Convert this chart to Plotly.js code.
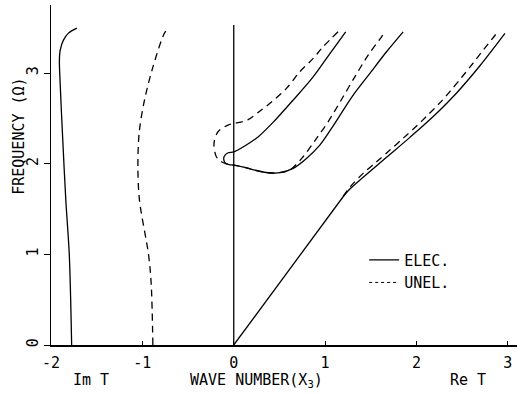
<!DOCTYPE html>
<html>
<head>
<meta charset="utf-8">
<script src="https://cdn.plot.ly/plotly-3.0.1.min.js"></script>
<style>html,body{margin:0;padding:0;background:#fff;}#chart{width:523px;height:394px;}</style>
</head>
<body>
<div id="chart"></div>
<script>
// ---- Data ----
// Imaginary part (plotted on negative side of the wave-number axis)
const imElecX = [-1.774, -1.80, -1.838, -1.875, -1.90, -1.908, -1.90, -1.864, -1.809, -1.717];
const imElecY = [0, 1.0, 1.6, 2.34, 2.89, 3.14, 3.25, 3.363, 3.44, 3.495];
const imUnelX = [-0.885, -0.904, -0.933, -1.032, -1.049, -1.035, -0.977, -0.885, -0.758, -0.714];
const imUnelY = [0, 0.684, 1.0, 1.6, 1.96, 2.34, 2.70, 3.065, 3.44, 3.495];

// Real part, electroded: upper branch -> loop -> middle branch
const reElecAX = [1.225, 1.015, 0.869, 0.65, 0.43, 0.266, 0.12, 0, -0.062, -0.106, -0.108, -0.09, -0.05, 0,
                  0.12, 0.23, 0.376, 0.504, 0.65, 0.796, 0.942, 1.07, 1.307, 1.49, 1.672, 1.854];
const reElecAY = [3.454, 3.161, 2.958, 2.701, 2.455, 2.295, 2.195, 2.13, 2.12, 2.076, 2.04, 2.005, 1.99, 1.985,
                  1.959, 1.929, 1.90, 1.90, 1.948, 2.058, 2.205, 2.389, 2.756, 2.996, 3.234, 3.454];
// Real part, unelectroded: upper branch -> loop -> middle branch
const reUnelAX = [1.142, 0.978, 0.869, 0.723, 0.577, 0.358, 0.266, 0.157, 0.011, -0.062, -0.172, -0.216, -0.19, -0.135, -0.07, 0,
                  0.12, 0.23, 0.376, 0.504, 0.62, 0.759, 0.906, 1.033, 1.197, 1.325, 1.471, 1.618, 1.645];
const reUnelAY = [3.454, 3.289, 3.161, 3.013, 2.83, 2.635, 2.565, 2.485, 2.444, 2.426, 2.352, 2.224, 2.076, 2.021, 1.995, 1.985,
                  1.959, 1.929, 1.90, 1.90, 1.935, 2.076, 2.279, 2.462, 2.738, 2.958, 3.197, 3.399, 3.44];
// Real part, lowest branch: straight part from the origin, then the curved parts
const reLinearX = [0, 1.197];
const reLinearY = [0, 1.635];
const reElecBX = [1.197, 1.27, 1.416, 1.672, 1.928, 2.183, 2.439, 2.694, 2.968];
const reElecBY = [1.635, 1.72, 1.85, 2.07, 2.29, 2.52, 2.78, 3.08, 3.437];
const reUnelBX = [1.197, 1.275, 1.416, 1.563, 1.709, 1.854, 2.001, 2.128, 2.255, 2.365, 2.493, 2.621, 2.736, 2.867, 2.883];
const reUnelBY = [1.64, 1.745, 1.893, 2.021, 2.15, 2.28, 2.415, 2.54, 2.67, 2.795, 2.95, 3.11, 3.26, 3.425, 3.448];

// Divider between Im and Re halves
const dividerX = [0, 0];
const dividerY = [0, 3.53];

// Axis ticks
const xTickVals = [-2, -1, 0, 1, 2, 3];
const xTickText = ['-2', '-1', '0', '1', '2', '3'];
const yTickVals = [0, 1, 2, 3];
const yTickText = ['0', '1', '2', '3'];

const seriesNames = ['ELEC.', 'UNEL.'];

// ---- Styles ----
const FONT = 'DejaVu Sans Mono, Liberation Mono, monospace';
const solid = {color: '#000', width: 1.3, shape: 'spline', smoothing: 0.9};
const dashed = {color: '#000', width: 1.3, dash: '7px,5px', shape: 'spline', smoothing: 0.9};

function tr(x, y, line) {
  return {x: x, y: y, type: 'scatter', mode: 'lines', line: line, showlegend: false, hoverinfo: 'skip'};
}

const data = [
  tr(dividerX, dividerY, {color: '#000', width: 1.3}),
  tr(imElecX, imElecY, solid),
  tr(imUnelX, imUnelY, dashed),
  tr(reElecAX, reElecAY, solid),
  tr(reUnelAX, reUnelAY, dashed),
  tr(reUnelBX, reUnelBY, dashed),
  tr(reElecBX, reElecBY, solid),
  tr(reLinearX, reLinearY, {color: '#000', width: 1.3}),
  {x: [null], y: [null], type: 'scatter', mode: 'lines', name: seriesNames[0], line: {color: '#000', width: 1.3}, showlegend: true},
  {x: [null], y: [null], type: 'scatter', mode: 'lines', name: seriesNames[1], line: {color: '#000', width: 1, dash: 'dot'}, showlegend: true}
];

const layout = {
  width: 523, height: 394,
  margin: {l: 51, r: 6, t: 5, b: 49},
  paper_bgcolor: '#fff', plot_bgcolor: '#fff',
  font: {family: FONT, size: 15, color: '#000'},
  xaxis: {
    range: [-2, 3.1], showgrid: false, zeroline: false,
    showline: true, linecolor: '#000', linewidth: 1.5,
    tickmode: 'array', tickvals: xTickVals, ticktext: xTickText,
    ticks: 'inside', ticklen: 4, tickcolor: '#000', ticklabelstandoff: 3,
    tickfont: {family: FONT, size: 15}
  },
  yaxis: {
    range: [0, 3.75], showgrid: false, zeroline: false,
    showline: true, linecolor: '#000', linewidth: 1.5,
    tickmode: 'array', tickvals: yTickVals, ticktext: yTickText,
    ticks: 'outside', ticklen: 6, tickcolor: '#000', tickangle: -90,
    tickfont: {family: FONT, size: 15}
  },
  showlegend: true,
  legend: {
    x: 0.672, y: 0.298, xanchor: 'left', yanchor: 'top',
    bgcolor: 'rgba(0,0,0,0)', font: {family: FONT, size: 15},
    itemwidth: 30, tracegroupgap: 0
  },
  annotations: [
    {text: 'FREQUENCY (Ω)', xref: 'paper', yref: 'y', x: -0.068, y: 2.3, textangle: -90,
     showarrow: false, xanchor: 'center', yanchor: 'middle', font: {family: FONT, size: 15}},
    {text: 'WAVE NUMBER(X<sub>3</sub>)', xref: 'x', yref: 'paper', x: 0.246, y: -0.103,
     showarrow: false, xanchor: 'center', yanchor: 'middle', font: {family: FONT, size: 15}},
    {text: 'Im T', xref: 'x', yref: 'paper', x: -1.566, y: -0.103,
     showarrow: false, xanchor: 'center', yanchor: 'middle', font: {family: FONT, size: 15}},
    {text: 'Re T', xref: 'x', yref: 'paper', x: 2.563, y: -0.103,
     showarrow: false, xanchor: 'center', yanchor: 'middle', font: {family: FONT, size: 15}}
  ]
};

Plotly.newPlot('chart', data, layout, {displayModeBar: false, staticPlot: true});
</script>
</body>
</html>
